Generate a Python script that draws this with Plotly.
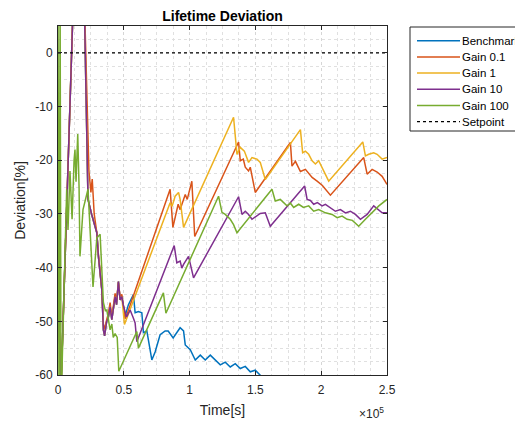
import plotly.graph_objects as go

# ---- data (time in s, deviation in %) ----
common_t = [0, 2300, 11400, 14500, 19800, 22800, 25600, 29500, 30700, 32000, 33300, 34500,
            35400, 36900, 38300, 39600, 40900, 43400, 44500, 45900, 47200, 48500, 49500]
common_v = [-44.1, -62, 8, 15, 12, -27.3, -30.1, -33.5, -37.9, -41.7, -44.1, -51.6,
            -52.7, -50.1, -49.2, -47.3, -49.7, -45.4, -46.9, -42.6, -46.0, -45.4, -46.9]

bench_t = common_t + [51000, 53500, 57300, 58600, 61100, 63700, 64900, 67500, 71300, 73800,
                      77600, 81400, 83700, 87500, 91300, 92800, 95400, 96700, 100500, 104300,
                      108100, 111900, 115700, 119500, 123300, 127100, 130900, 134700, 138500,
                      142300, 146100, 149900, 153700, 157500, 170000, 250000]
bench_v = common_v + [-49.0, -46.9, -45.0, -48.4, -48.2, -48.4, -52.1, -51.8, -57.2, -55.7,
                      -52.5, -51.8, -51.8, -53.1, -51.6, -51.2, -51.8, -54.4, -55.3, -57.2,
                      -56.3, -57.2, -56.3, -57.2, -58.1, -57.6, -58.5, -57.9, -58.8,
                      -58.4, -59.4, -59.1, -60.0, -61.0, -62.5, -68.0]

g01_t = common_t[:5] + [23500, 25000, 26000, 27500, 29500, 30700, 32000, 33300, 34500, 35400,
                        36900, 38300, 39600, 40900, 43400, 44500, 45900, 47200, 48500, 49500,
                        51000, 52000, 85200, 87300, 91300, 92800, 96700, 98200, 101700, 103900,
                        137200, 138500, 140800, 142300, 144800, 146100, 147600, 149900, 176600,
                        177800, 180400, 184200, 188000, 193100, 196900, 200900, 207000, 232300,
                        234900, 238700, 242500, 246300, 250000]
g01_v = common_v[:5] + [-22.0, -26.0, -23.5, -30.0, -33.5, -37.5, -41.5, -44.0, -50.5, -51.5,
                        -49.8, -48.5, -46.5, -49.2, -44.8, -46.2, -42.8, -45.5, -45.0, -47.0,
                        -49.5, -49.0, -25.4, -32.5, -28.2, -29.2, -26.4, -27.3, -23.9, -34.2,
                        -16.6, -20.1, -19.8, -21.3, -22.0, -21.3, -23.2, -26.0, -16.7,
                        -21.1, -20.2, -22.1, -21.7, -23.2, -23.9, -24.7, -26.5, -19.5,
                        -22.6, -21.7, -22.2, -23.0, -24.5]

g1_t = common_t[:-1] + [50500, 85200, 86700, 89000, 91600, 92800, 95400, 133400, 136000,
                        138500, 141600, 144800, 147400, 151200, 153700, 157500, 184200, 185900,
                        188000, 190500, 193100, 195600, 198100, 205700, 231600, 233600, 236100,
                        239900, 242500, 246300, 250000]
g1_v = common_v[:-1] + [-50.6, -27.9, -28.6, -26.7, -26.0, -27.3, -32.5, -12.0, -18.9,
                        -17.6, -18.3, -20.4, -19.5, -19.8, -20.4, -23.6, -14.3, -18.6,
                        -18.3, -18.9, -20.1, -20.7, -20.1, -23.9, -16.6, -19.2, -18.9,
                        -18.6, -18.9, -19.8, -19.5]

g10_t = common_t + [52100, 54800, 57100, 58600, 59900, 88300, 90300, 92800, 94100, 95400,
                    99200, 103000, 137200, 139800, 142300, 144800, 147400, 151200, 153700,
                    157500, 161300, 187400, 189300, 191800, 194300, 197100, 200700, 203200,
                    207000, 210800, 214600, 218400, 222200, 226000, 229800, 234900, 239900,
                    243800, 246300, 250000]
g10_v = common_v + [-49.2, -47.9, -49.3, -50.3, -53.8, -35.9, -39.1, -38.8, -40.1, -39.4,
                    -37.9, -41.9, -26.8, -30.1, -29.5, -30.1, -31.0, -30.4, -29.9,
                    -29.8, -32.3, -24.8, -27.3, -27.5, -28.2, -27.9, -28.5, -28.2,
                    -28.8, -29.5, -29.2, -29.8, -29.5, -30.1, -31.0, -30.1, -28.5,
                    -29.2, -29.8, -29.8]

g100_t = [0, 800, 1600, 2300, 6600, 7600, 9100, 10700, 12200, 12900, 13700, 15000, 16000,
          16700, 19000, 22800, 26600, 29500, 32000, 33300, 34500, 36000, 37100, 39600, 40900,
          42000, 43400, 45000, 46200, 59900, 61100, 80100, 82000, 122000, 124600, 127100,
          130900, 133400, 136000, 162600, 165100, 168900, 174000, 176600, 179100, 182900,
          186500, 190500, 194300, 198100, 203200, 208300, 212100, 215900, 219700, 223700,
          228500, 233600, 238700, 243800, 250000]
g100_v = [10, -70, 10, -66, -25.4, -33, -22, -31, -20, -18, -24, -15.1, -25,
          -37.9, -29.2, -25.4, -43.6, -34.5, -33.8, -40, -46.5, -48, -47.9, -51.6, -50.5,
          -53, -52.3, -53.0, -59.3, -51.9, -55.0, -44.7, -48.5, -26.7, -29.7, -30.1,
          -31.0, -32.0, -33.5, -25.4, -27.6, -27.3, -28.5, -28.0, -28.8, -28.2,
          -28.8, -28.5, -29.5, -29.2, -29.8, -30.1, -30.7, -30.4, -31.0, -31.2,
          -32.3, -31.0, -29.8, -28.5, -27.3]

setpoint_t = [0, 250000]
setpoint_v = [0, 0]

series_names = ["Benchmark", "Gain 0.1", "Gain 1", "Gain 10", "Gain 100"]
series_colors = ["#0072BD", "#D95319", "#EDB120", "#7E2F8E", "#77AC30"]
series_t = [bench_t, g01_t, g1_t, g10_t, g100_t]
series_v = [bench_v, g01_v, g1_v, g10_v, g100_v]

x_ticks = [0, 50000, 100000, 150000, 200000, 250000]
x_ticktext = ["0", "0.5", "1", "1.5", "2", "2.5"]
y_ticks = [0, -10, -20, -30, -40, -50, -60]
y_ticktext = ["0", "-10", "-20", "-30", "-40", "-50", "-60"]

# ---- layout geometry (figure pixels) ----
W, H = 515, 413
L, R, T, B = 50, 136, 18, 46
PW, PH = W - L - R, H - T - B


def px(xp):
    return (xp - L) / PW


def py(yp):
    return (H - B - yp) / PH


fig = go.Figure()
for name, color, t, v in zip(series_names, series_colors, series_t, series_v):
    fig.add_trace(go.Scatter(x=t, y=v, mode="lines", name=name,
                             line=dict(color=color, width=1.5)))
fig.add_trace(go.Scatter(x=setpoint_t, y=setpoint_v, mode="lines", name="Setpoint",
                         line=dict(color="black", width=1.2, dash="dot")))

axis_common = dict(showline=True, linecolor="#262626", linewidth=1, mirror="ticks",
                   ticks="inside", ticklen=4, tickcolor="#262626",
                   showgrid=True, gridcolor="#d6d6d6", griddash="dot", gridwidth=1,
                   zeroline=False, tickfont=dict(size=12, color="#262626"))

fig.update_xaxes(range=[0, 250000], tickvals=x_ticks, ticktext=x_ticktext,
                 ticklabelstandoff=4,
                 minor=dict(dtick=12500, showgrid=True, gridcolor="#e0e0e0", griddash="dot",
                            ticks=""),
                 title=dict(text="Time[s]", font=dict(size=14, color="#262626"), standoff=8),
                 **axis_common)
fig.update_yaxes(range=[-60, 5], tickvals=y_ticks, ticktext=y_ticktext,
                 ticklabelstandoff=2,
                 minor=dict(dtick=2.5, showgrid=True, gridcolor="#e0e0e0", griddash="dot",
                            ticks=""),
                 title=dict(text="Deviation[%]", font=dict(size=14, color="#262626"), standoff=6),
                 **axis_common)

# ---- custom legend (box, line samples, labels) ----
leg_names = series_names + ["Setpoint"]
leg_colors = series_colors + ["black"]
leg_dash = ["solid"] * 5 + ["dot"]
shapes = [dict(type="rect", xref="paper", yref="paper", x0=px(402), x1=px(540),
               y0=py(123), y1=py(19), line=dict(color="#262626", width=1),
               fillcolor="white", layer="above")]
annotations = []
for i, (n, c, d) in enumerate(zip(leg_names, leg_colors, leg_dash)):
    yy = 32.7 + 16.2 * i
    shapes.append(dict(type="line", xref="paper", yref="paper", x0=px(409), x1=px(452),
                       y0=py(yy), y1=py(yy), line=dict(color=c, width=1.5 if d == "solid" else 1.2,
                                                       dash=d), layer="above"))
    annotations.append(dict(text=n, xref="paper", yref="paper", x=px(452), y=py(yy),
                            xanchor="left", yanchor="middle", showarrow=False,
                            font=dict(size=11.5, color="black")))

annotations.append(dict(text="×10<sup>5</sup>", xref="paper", yref="paper", x=px(378),
                        y=py(405), xanchor="right", yanchor="middle", showarrow=False,
                        font=dict(size=12, color="#262626")))

fig.update_layout(
    width=W, height=H,
    margin=dict(l=L, r=R, t=T, b=B, autoexpand=False),
    paper_bgcolor="white", plot_bgcolor="white",
    font=dict(family="Liberation Sans, Arial, sans-serif", size=11, color="#262626"),
    title=dict(text="<b>Lifetime Deviation</b>", x=(L + PW / 2) / W, xanchor="center",
               y=1 - 8 / H, yanchor="middle", font=dict(size=14, color="black")),
    showlegend=False,
    shapes=shapes,
    annotations=annotations,
)

fig.write_html("out.html")
